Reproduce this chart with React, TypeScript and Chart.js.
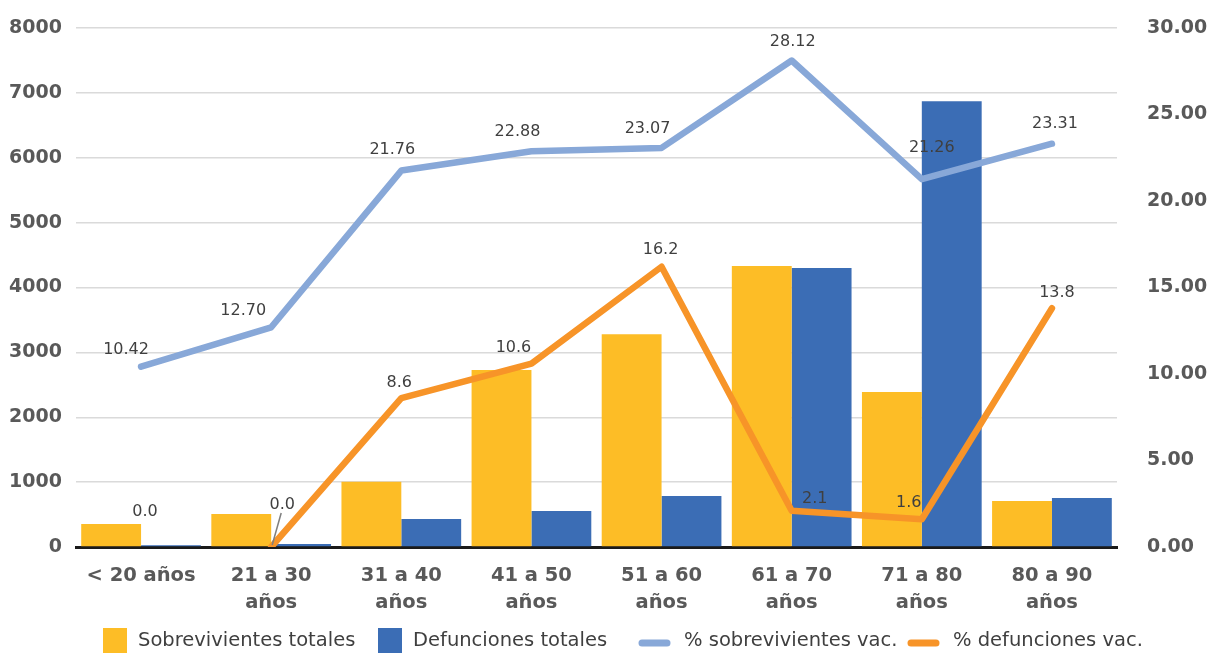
import React, { useEffect, useRef } from "react";
import { Chart, registerables } from "chart.js";

Chart.register(...registerables);

// Age groups shown on the category axis (two-line labels where wrapped)
const categories: (string | string[])[] = [
  "< 20 años",
  ["21 a 30", "años"],
  ["31 a 40", "años"],
  ["41 a 50", "años"],
  ["51 a 60", "años"],
  ["61 a 70", "años"],
  ["71 a 80", "años"],
  ["80 a 90", "años"],
];

// Bar series (left axis, counts)
const sobrevivientesTotales = [354, 508, 1005, 2730, 3280, 4330, 2390, 710];
const defuncionesTotales = [28, 48, 431, 555, 786, 4300, 6870, 755];

// Line series (right axis, percentages)
const pctSobrevivientesVac = [10.42, 12.7, 21.76, 22.88, 23.07, 28.12, 21.26, 23.31];
const pctDefuncionesVac = [0.0, 0.0, 8.6, 10.6, 16.2, 2.1, 1.6, 13.8];

// Axis ticks
const leftTicks = [0, 1000, 2000, 3000, 4000, 5000, 6000, 7000, 8000];
const rightTicks = [0, 5, 10, 15, 20, 25, 30];

const legendNames = [
  "Sobrevivientes totales",
  "Defunciones totales",
  "% sobrevivientes vac.",
  "% defunciones vac.",
];

const YELLOW = "#FDBD26";
const BLUE = "#3B6DB5";
const LIGHT_BLUE = "#88A8D8";
const ORANGE = "#F79428";
const TICK_COLOR = "#595959";
const LABEL_COLOR = "#3f3f3f";
const FONT = "'DejaVu Sans', sans-serif";

// Nudges for the value labels around each line vertex
const sobrevLabelOffsets: [number, number][] = [
  [-15, -17], [-28, -16], [-9, -21], [-14, -19], [-14, -19], [1, -19], [10, -31], [3, -20],
];
const defuncLabelOffsets: [number, number][] = [
  [4, -35], [11, -42], [-2, -15], [-18, -16], [-1, -17], [23, -12], [-13, -16], [5, -15],
];

const valueLabelsPlugin = {
  id: "valueLabels",
  afterDatasetsDraw(chart: any) {
    const ctx = chart.ctx;
    ctx.save();
    ctx.font = `16px ${FONT}`;
    ctx.fillStyle = LABEL_COLOR;
    ctx.textAlign = "center";
    ctx.textBaseline = "middle";
    const sets = [
      { idx: 2, offs: sobrevLabelOffsets, digits: 2 },
      { idx: 3, offs: defuncLabelOffsets, digits: 1 },
    ];
    for (const s of sets) {
      const meta = chart.getDatasetMeta(s.idx);
      const data = chart.data.datasets[s.idx].data as number[];
      meta.data.forEach((pt: any, i: number) => {
        const [dx, dy] = s.offs[i];
        const lx = pt.x + dx;
        const ly = pt.y + dy;
        ctx.fillText(data[i].toFixed(s.digits), lx, ly);
        // leader line for the label that sits away from its point
        if (s.idx === 3 && i === 1) {
          ctx.save();
          ctx.strokeStyle = "#7f7f7f";
          ctx.lineWidth = 1.5;
          ctx.beginPath();
          ctx.moveTo(lx - 1, ly + 8);
          ctx.lineTo(pt.x + 1, pt.y - 2);
          ctx.stroke();
          ctx.restore();
        }
      });
    }
    ctx.restore();
  },
};

// Legend drawn under the category labels
const legendStarts = [103, 378, 639, 908];
const bottomLegendPlugin = {
  id: "bottomLegend",
  afterDraw(chart: any) {
    const ctx = chart.ctx;
    const cy = 641;
    ctx.save();
    ctx.font = `19.5px ${FONT}`;
    ctx.fillStyle = LABEL_COLOR;
    ctx.textBaseline = "middle";
    ctx.textAlign = "left";
    const colors = [YELLOW, BLUE, LIGHT_BLUE, ORANGE];
    legendNames.forEach((name, i) => {
      const x = legendStarts[i];
      let textX;
      if (i < 2) {
        ctx.fillStyle = colors[i];
        ctx.fillRect(x, cy - 13, 24, 25);
        textX = x + 35;
      } else {
        ctx.strokeStyle = colors[i];
        ctx.lineWidth = 7;
        ctx.lineCap = "round";
        ctx.beginPath();
        ctx.moveTo(x + 3, cy + 2);
        ctx.lineTo(x + 28, cy + 2);
        ctx.stroke();
        textX = x + 45;
      }
      ctx.fillStyle = LABEL_COLOR;
      ctx.fillText(name, textX, cy);
    });
    ctx.restore();
  },
};

export default function App() {
  const canvasRef = useRef<HTMLCanvasElement | null>(null);

  useEffect(() => {
    if (!canvasRef.current) return;
    const chart = new Chart(canvasRef.current, {
      type: "bar",
      data: {
        labels: categories as any,
        datasets: [
          {
            type: "bar",
            label: legendNames[0],
            data: sobrevivientesTotales,
            backgroundColor: YELLOW,
            yAxisID: "y",
            order: 3,
            categoryPercentage: 0.92,
            barPercentage: 1.0,
          },
          {
            type: "bar",
            label: legendNames[1],
            data: defuncionesTotales,
            backgroundColor: BLUE,
            yAxisID: "y",
            order: 3,
            categoryPercentage: 0.92,
            barPercentage: 1.0,
          },
          {
            type: "line",
            label: legendNames[2],
            data: pctSobrevivientesVac,
            borderColor: LIGHT_BLUE,
            borderWidth: 6.5,
            borderCapStyle: "round",
            borderJoinStyle: "round",
            pointRadius: 0,
            yAxisID: "y1",
            order: 1,
          },
          {
            type: "line",
            label: legendNames[3],
            data: pctDefuncionesVac,
            borderColor: ORANGE,
            borderWidth: 6.5,
            borderCapStyle: "round",
            borderJoinStyle: "round",
            pointRadius: 0,
            yAxisID: "y1",
            order: 1,
            segment: {
              borderColor: (c: any) => (c.p0DataIndex === 0 ? "rgba(0,0,0,0)" : ORANGE),
            },
          },
        ] as any,
      },
      options: {
        responsive: false,
        animation: false,
        events: [],
        layout: { padding: { top: 28, left: 0, right: 0, bottom: 0 } },
        plugins: {
          legend: { display: false },
          tooltip: { enabled: false },
          title: { display: false },
        },
        scales: {
          x: {
            grid: { display: false, drawTicks: false },
            border: { display: true, color: "#1a1a1a", width: 3 },
            ticks: {
              color: TICK_COLOR,
              font: { family: FONT, size: 19.5, weight: "bold", lineHeight: 1.4 },
              padding: 15,
              maxRotation: 0,
              autoSkip: false,
            },
            afterFit(scale: any) {
              scale.height = 107;
            },
          },
          y: {
            position: "left",
            min: 0,
            max: 8000,
            afterBuildTicks(scale: any) {
              scale.ticks = leftTicks.map((v) => ({ value: v }));
            },
            grid: { color: "#dadada", lineWidth: 1.5, drawTicks: false },
            border: { display: false },
            ticks: {
              color: TICK_COLOR,
              font: { family: FONT, size: 19, weight: "bold" },
              padding: 14,
              callback: (v: any) => String(v),
            },
            afterFit(scale: any) {
              scale.width = 76;
              scale.paddingTop = 0;
              scale.paddingBottom = 0;
            },
          },
          y1: {
            position: "right",
            min: 0,
            max: 30,
            afterBuildTicks(scale: any) {
              scale.ticks = rightTicks.map((v) => ({ value: v }));
            },
            grid: { display: false, drawTicks: false },
            border: { display: false },
            ticks: {
              color: TICK_COLOR,
              font: { family: FONT, size: 19, weight: "bold" },
              padding: 30,
              callback: (v: any) => Number(v).toFixed(2),
            },
            afterFit(scale: any) {
              scale.width = 101;
              scale.paddingTop = 0;
              scale.paddingBottom = 0;
            },
          },
        },
      } as any,
      plugins: [valueLabelsPlugin, bottomLegendPlugin],
    });
    return () => chart.destroy();
  }, []);

  return (
    <div style={{ position: "fixed", left: 0, top: 0, width: 1218, height: 654, background: "#ffffff" }}>
      <canvas ref={canvasRef} width={1218} height={654} />
    </div>
  );
}
